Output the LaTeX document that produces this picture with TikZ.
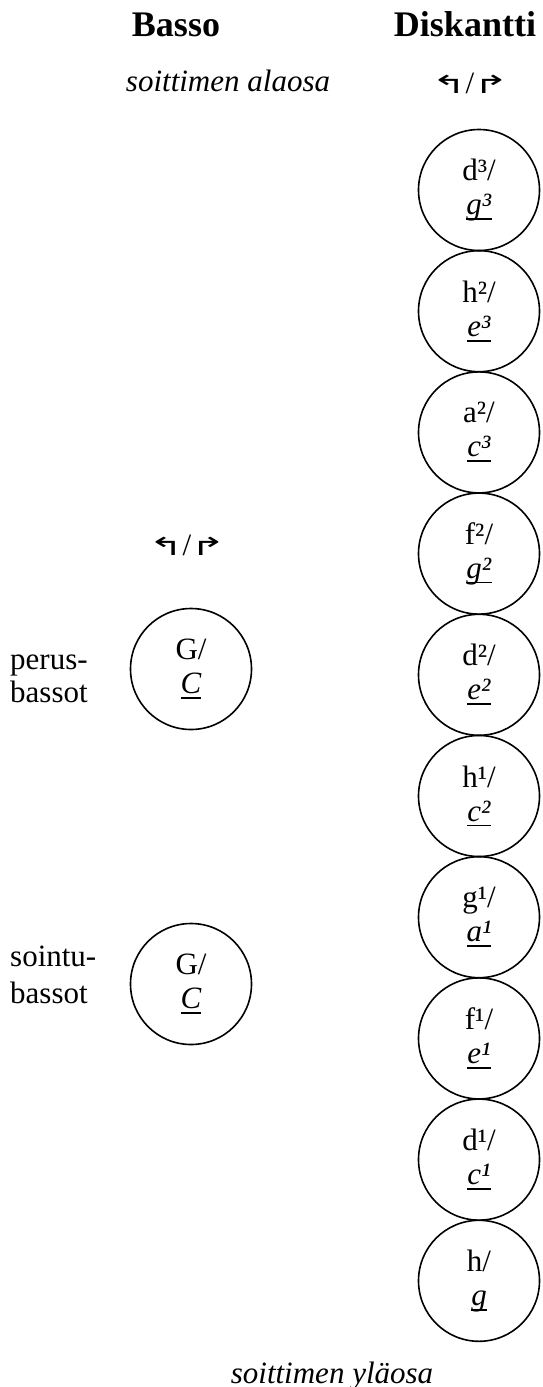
\documentclass[tikz,border=0pt]{standalone}
\usepackage{fontspec}
\usepackage{graphicx}
\setmainfont{Liberation Serif}
\newfontfamily\arrowfont{DejaVu Sans}
\usetikzlibrary{positioning}

\newcommand{\bodyfont}{\fontsize{31}{34}\selectfont}
\newcommand{\headfont}{\fontsize{36}{40}\selectfont\bfseries}
% underline that runs through the descender
\newcommand{\pushtone}[1]{\sbox0{#1}\rlap{\rule[-0.17em]{\wd0}{0.06em}}\usebox0}
\newcommand{\turns}{\scalebox{1.35}[0.8]{\arrowfont ↰}\kern-1pt/\kern-1pt\scalebox{1.35}[0.8]{\arrowfont ↱}}

\tikzset{
  keybtn/.style={draw, circle, line width=1.6pt, minimum size=121pt, inner sep=0pt, align=center, font=\bodyfont},
  plain/.style={inner sep=0pt, font=\bodyfont},
  head/.style={inner sep=0pt, font=\headfont, anchor=base}
}

\begin{document}
\begin{tikzpicture}[x=1pt,y=-1pt]
\useasboundingbox (0,0) rectangle (543,1387);

% Headers
\node[head] (basso) at (176,36) {Basso};
\node[head] (diskantti) at (465,36) {Diskantti};
\node[plain, anchor=base] (alaosa) at (228,91) {\textit{soittimen alaosa}};
\node[plain, anchor=base] (disk-turn) at (470,93) {\turns};

% Diskantti buttons
\foreach \pull/\push [count=\i] in {d³/g³, h²/e³, a²/c³, f²/g², d²/e², h¹/c², g¹/a¹, f¹/e¹, d¹/c¹, h/g}
  \node[keybtn] (disk-\i) at (479,{190+121.2*(\i-1)}) {\pull/\\\pushtone{\textit{\push}}};

% Basso buttons
\node[plain, anchor=base] (bass-turn) at (187,555) {\turns};
\node[keybtn] (perus) at (191,669) {G/\\\pushtone{\textit{C}}};
\node[keybtn] (sointu) at (191,984) {G/\\\pushtone{\textit{C}}};
\node[plain, align=left, anchor=west, font=\fontsize{31}{33}\selectfont] (perus-lbl) at (10,679) {perus-\\bassot};
\node[plain, align=left, anchor=west, font=\fontsize{31}{37}\selectfont] (sointu-lbl) at (10,975) {sointu-\\bassot};

\node[plain, anchor=base] (ylaosa) at (332,1383) {\textit{soittimen yläosa}};
\end{tikzpicture}
\end{document}
